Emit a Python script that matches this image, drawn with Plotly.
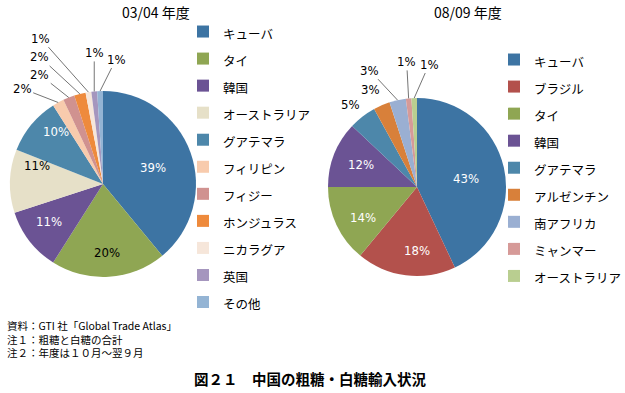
import math
import plotly.graph_objects as go

W, H = 625, 393

# ---------------- data ----------------
title_left = "03/04 年度"
title_right = "08/09 年度"

labels_left = ["キューバ", "タイ", "韓国", "オーストラリア", "グアテマラ", "フィリピン",
               "フィジー", "ホンジュラス", "ニカラグア", "英国", "その他"]
values_left = [39, 20, 11, 11, 10, 2, 2, 2, 1, 1, 1]

labels_right = ["キューバ", "ブラジル", "タイ", "韓国", "グアテマラ", "アルゼンチン",
                "南アフリカ", "ミャンマー", "オーストラリア"]
values_right = [43, 18, 14, 12, 5, 3, 3, 1, 1]

notes = ["資料：GTI 社「Global Trade Atlas」",
         "注１：粗糖と白糖の合計",
         "注２：年度は１０月～翌９月"]
fig_title = "図２１　中国の粗糖・白糖輸入状況"

# ---------------- style ----------------
colors_left = ["#3D74A3", "#8FA653", "#6B5394", "#E6E0C8", "#4D87AA", "#F8CBAD",
               "#D09290", "#EE8A3C", "#F6E6DA", "#A596BE", "#94B4D4"]
colors_right = ["#3D74A3", "#B3514C", "#8FA653", "#6B5394", "#4D87AA", "#D8803A",
                "#9AAFD2", "#D69A98", "#B9CE90"]

# label placement style per slice:
# ("in", color, dx, dy) inside nudge; ("arrow", dx, dy) leader line; ("near", dx, dy) no line
place_left = [("in", "white", -7, 4), ("in", "black", 0, 8), ("in", "white", -6, 0),
              ("in", "black", -6, -17), ("in", "white", 0, -14),
              ("arrow", -36, -14), ("arrow", -29, -23), ("arrow", -40, -37),
              ("arrow", -48, -54), ("arrow", 0, -39), ("arrow", 16, -32)]
place_right = [("in", "white", -7, 4), ("in", "white", 7, 6), ("in", "white", -2, 6),
               ("in", "white", -2, -1),
               ("near", -12, -12), ("near", -11, -16), ("arrow", -28, -30),
               ("arrow", -2, -37), ("arrow", 15, -34)]

# pie geometry in pixels (centre x, centre y, radius)
geo_left = (103, 184, 93)
geo_right = (417, 187, 89)

JP = "Noto Sans CJK JP, Noto Sans, sans-serif"
NUM = "Liberation Sans Narrow, DejaVu Sans Condensed, Noto Sans CJK JP, sans-serif"
IN_FRAC = 0.65


def domain(geo):
    cx, cy, r = geo
    return dict(x=[(cx - r) / W, (cx + r) / W], y=[1 - (cy + r) / H, 1 - (cy - r) / H])


def pie(labels, values, colors, geo, legend, style):
    return go.Pie(
        labels=[f"<span style='{style}'>{l}</span>" for l in labels],
        values=values, sort=False, direction="clockwise", rotation=0,
        marker=dict(colors=colors, line=dict(width=0)),
        textinfo="none", domain=domain(geo), legend=legend,
        hovertemplate="%{value}%<extra></extra>",
    )


def pct_annotations(values, geo, place):
    cx, cy, r = geo
    total = sum(values)
    cum = 0
    anns = []
    for v, p in zip(values, place):
        ang = (cum + v / 2) / total * 2 * math.pi
        cum += v
        s, c = math.sin(ang), -math.cos(ang)
        txt = f"{round(v / total * 100)}%"
        base = dict(xref="paper", yref="paper", text=txt, xanchor="center", yanchor="middle")
        if p[0] == "in":
            px, py = cx + IN_FRAC * r * s, cy + IN_FRAC * r * c
            anns.append(dict(x=px / W, y=1 - py / H, showarrow=False,
                             xshift=p[2], yshift=-p[3],
                             font=dict(family=NUM, size=13, color=p[1]), **base))
        else:
            px, py = cx + r * s, cy + r * c
            if p[0] == "arrow":
                anns.append(dict(x=px / W, y=1 - py / H, showarrow=True, ax=p[1], ay=p[2],
                                 arrowhead=0, arrowwidth=0.8, arrowcolor="#505050", standoff=0,
                                 font=dict(family=NUM, size=13, color="black"), **base))
            else:
                anns.append(dict(x=px / W, y=1 - py / H, showarrow=False,
                                 xshift=p[1], yshift=-p[2],
                                 font=dict(family=NUM, size=13, color="black"), **base))
    return anns


fig = go.Figure()
fig.add_trace(pie(labels_left, values_left, colors_left, geo_left, "legend",
                  "font-size:12.5px"))
fig.add_trace(pie(labels_right, values_right, colors_right, geo_right, "legend2",
                  "font-size:12.5px;"))

annotations = []
annotations += pct_annotations(values_left, geo_left, place_left)
annotations += pct_annotations(values_right, geo_right, place_right)

for t, x in ((title_left, 156), (title_right, 468)):
    annotations.append(dict(x=x / W, y=1 - 12 / H, xref="paper", yref="paper", text=t,
                            showarrow=False, xanchor="center", yanchor="middle",
                            font=dict(family=JP, size=14, color="black")))
annotations.append(dict(x=5 / W, y=1 - 339 / H, xref="paper", yref="paper",
                        text="<br>".join(notes), showarrow=False, xanchor="left",
                        yanchor="middle", align="left",
                        font=dict(family=JP, size=10.5, color="black")))
annotations.append(dict(x=310 / W, y=1 - 378 / H, xref="paper", yref="paper",
                        text=f"<b>{fig_title}</b>", showarrow=False,
                        xanchor="center", yanchor="middle",
                        font=dict(family=JP, size=14.5, color="black")))

leg_common = dict(xanchor="left", yanchor="top", bgcolor="rgba(0,0,0,0)",
                  font=dict(family=JP, size=18.5, color="black"), tracegroupgap=0,
                  itemclick=False, itemdoubleclick=False)

fig.update_layout(
    width=W, height=H, margin=dict(l=0, r=0, t=0, b=0, autoexpand=False),
    paper_bgcolor="white", plot_bgcolor="white",
    showlegend=True,
    legend=dict(x=183 / W, y=1 - 13 / H, **leg_common),
    legend2=dict(x=494 / W, y=1 - 41 / H, **leg_common),
    annotations=annotations,
)

fig.write_html("out.html", config={"displayModeBar": False},
               post_script="document.body.style.margin='0';")
